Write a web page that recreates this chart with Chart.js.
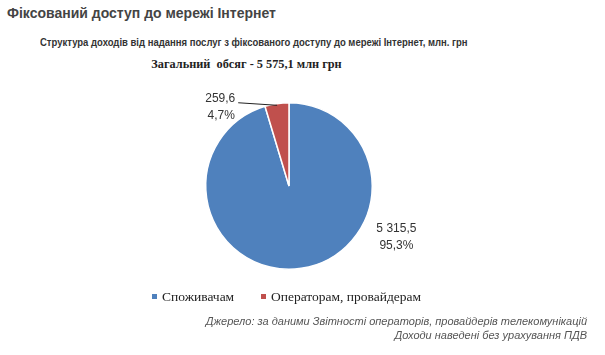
<!DOCTYPE html>
<html><head><meta charset="utf-8">
<script src="https://cdn.jsdelivr.net/npm/chart.js@4"></script>
<style>
html,body{margin:0;padding:0;background:#fff;}
#wrap{position:relative;width:605px;height:355px;overflow:hidden;}
.t{position:absolute;white-space:nowrap;}
#h1{left:7px;top:5px;font:bold 14px "Liberation Sans",Arial,sans-serif;color:#444;}
#h2{left:40px;top:36px;font:bold 11px "Liberation Sans",Arial,sans-serif;color:#333;transform-origin:0 0;transform:scaleX(0.864);}
#h3{left:0;width:493px;text-align:center;top:57px;font:bold 12.3px "Liberation Serif","Times New Roman",serif;color:#222;}
#c{position:absolute;left:0;top:81px;}
#leg{position:absolute;left:0;top:289px;width:605px;font:13.5px "Liberation Serif","Times New Roman",serif;color:#222;}
.li{position:absolute;top:0;}
.sw{display:inline-block;width:5px;height:5px;margin-right:5px;vertical-align:2px;}
#src{right:18px;top:315px;text-align:right;font:italic 11px "Liberation Sans",Arial,sans-serif;color:#555;line-height:13.5px;}
</style></head>
<body><div id="wrap">
<div class="t" id="h1">Фіксований доступ до мережі Інтернет</div>
<div class="t" id="h2">Структура доходів від надання послуг з фіксованого доступу до мережі Інтернет, млн. грн</div>
<div class="t" id="h3">Загальний&nbsp; обсяг - 5 575,1 млн грн</div>
<canvas id="c" width="605" height="210"></canvas>
<div id="leg"></div>
<div class="t" id="src">Джерело: за даними Звітності операторів, провайдерів телекомунікацій<br>Доходи наведені без урахування ПДВ</div>
</div>
<script>
const categories = ["Споживачам", "Операторам, провайдерам"];
const values = [5315.5, 259.6];
const valueLabels = ["5 315,5", "259,6"];
const percentLabels = ["95,3%", "4,7%"];
const colors = ["#4F81BD", "#C0504D"];

// HTML legend
const leg = document.getElementById('leg');
const legX = [152, 261];
categories.forEach((c, i) => {
  const d = document.createElement('span');
  d.className = 'li';
  d.style.left = legX[i] + 'px';
  d.innerHTML = '<span class="sw" style="background:' + colors[i] + '"></span>' + c;
  leg.appendChild(d);
});

const labelPlugin = {
  id: 'pieLabels',
  afterDatasetsDraw(chart) {
    const ctx = chart.ctx;
    const meta = chart.getDatasetMeta(0);
    const arc0 = meta.data[0];
    const cx = arc0.x, cy = arc0.y, r = arc0.outerRadius;
    ctx.save();
    ctx.font = '12px "Liberation Sans", Arial, sans-serif';
    ctx.fillStyle = '#333';
    ctx.textAlign = 'center';
    ctx.textBaseline = 'middle';
    // big slice label (lower right)
    const bx = cx + r * 1.29, by = cy + r * 0.51;
    ctx.fillText(valueLabels[0], bx, by);
    ctx.fillText(percentLabels[0], bx, by + 17);
    // small slice label (upper left) with leader line
    const arc1 = meta.data[1];
    const mid = (arc1.startAngle + arc1.endAngle) / 2;
    const ex = cx + Math.cos(mid) * r * 0.98, ey = cy + Math.sin(mid) * r * 0.98;
    const sx = cx - r * 0.61, sy = cy - r * 1.0;
    ctx.fillText(valueLabels[1], sx - 18, sy - 4);
    ctx.fillText(percentLabels[1], sx - 17, sy + 13);
    ctx.strokeStyle = '#222';
    ctx.lineWidth = 1;
    ctx.beginPath();
    ctx.moveTo(sx, sy);
    ctx.lineTo(ex, ey);
    ctx.stroke();
    ctx.restore();
  }
};

new Chart(document.getElementById('c'), {
  type: 'pie',
  data: {
    labels: categories,
    datasets: [{
      data: values,
      backgroundColor: colors,
      borderColor: '#fff',
      borderWidth: 1.5
    }]
  },
  options: {
    responsive: false,
    animation: false,
    events: [],
    layout: { padding: { left: 205, right: 232, top: 21, bottom: 21 } },
    plugins: { legend: { display: false }, tooltip: { enabled: false } }
  },
  plugins: [labelPlugin]
});
</script>
</body></html>
